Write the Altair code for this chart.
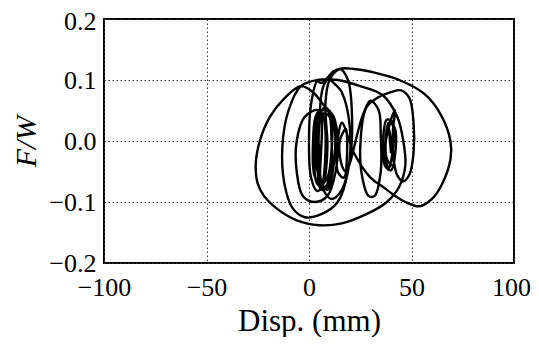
import altair as alt
import pandas as pd

x_ticks = [-100, -50, 0, 50, 100]
y_ticks = [-0.2, -0.1, 0.0, 0.1, 0.2]

# Traced path of the force-displacement response (mm, F/W), in drawing order
disp = [
    # dense block near 2-12 mm
    6, 3, 5, 7, 8, 6, 3, 2, 4, 9, 11, 10, 6, 4, 5, 8, 12, 12, 9, 5, 3, 6, 10, 11, 8, 4, 3, 7, 10, 9, 6, 5,
    # small loop
    -2, -6, -6, -3, 3, 9, 13, 14, 12, 8,
    # large left loop
    2, -4, -12, -19, -24, -26, -25, -22, -16, -6, 5, 16, 28, 38, 44, 47, 46, 43, 36, 25, 14, 4,
    # second outer left loop
    -4, -10, -13, -12, -8, -2, 6, 14, 19, 20, 16, 10,
    # tall loop reaching the top
    15, 19, 21, 20, 16, 11, 7, 5, 5, 7, 12,
    # narrow tall loop
    6, 4, 1, 0, 1, 4, 7, 9, 8, 10, 15,
    # large right loop
    22, 32, 44, 56, 64, 69, 69, 65, 60, 54, 47, 42, 36, 30, 22,
    # small block 14-18 mm
    16, 14, 17, 18, 15, 16, 18,
    # loop 25-35 mm
    26, 30, 34, 35, 35, 32, 29, 26, 25, 28,
    # loop 41-51 mm
    34, 40, 45, 49, 51, 51, 49, 46, 43, 41, 41, 42,
    # dense block near 36-43 mm
    40, 37, 39, 41, 38, 37, 40, 42, 39, 38, 41, 40, 39, 40,
]
fw = [
    -0.02, 0.03, 0.05, 0.04, -0.02, -0.07, -0.06, 0.0, 0.045, 0.05, 0.0, -0.07, -0.08, -0.03, 0.04, 0.055,
    0.03, -0.04, -0.08, -0.06, 0.0, 0.05, 0.05, -0.02, -0.075, -0.07, -0.02, 0.045, 0.04, -0.06, -0.07, 0.05,
    0.04, 0.0, -0.05, -0.09, -0.1, -0.09, -0.05, 0.0, 0.04, 0.055,
    0.08, 0.09, 0.07, 0.04, 0.0, -0.04, -0.07, -0.09, -0.11, -0.13, -0.138, -0.135, -0.12, -0.1, -0.075,
    -0.04, 0.0, 0.04, 0.075, 0.09, 0.1, 0.1,
    0.09, 0.05, -0.01, -0.07, -0.11, -0.125, -0.12, -0.1, -0.05, 0.02, 0.08, 0.105,
    0.118, 0.1, 0.04, -0.03, -0.08, -0.095, -0.08, -0.04, 0.03, 0.09, 0.115,
    0.095, 0.098, 0.06, 0.0, -0.06, -0.082, -0.07, -0.01, 0.06, 0.1, 0.118,
    0.118, 0.112, 0.1, 0.078, 0.045, 0.0, -0.03, -0.07, -0.095, -0.107, -0.1, -0.09, -0.075, -0.06, -0.02,
    0.03, -0.05, -0.06, 0.02, 0.0, -0.04, -0.05,
    0.04, 0.066, 0.05, 0.01, -0.05, -0.09, -0.09, -0.06, -0.01, 0.055,
    0.072, 0.08, 0.083, 0.07, 0.03, -0.02, -0.055, -0.066, -0.056, -0.02, 0.02, 0.05,
    0.035, -0.02, -0.045, 0.03, 0.035, -0.04, -0.048, 0.02, 0.03, -0.03, -0.04, 0.0, 0.02, -0.02,
]

df = pd.DataFrame({"i": list(range(len(disp))), "disp": disp, "fw": fw})

FONT = "Liberation Serif"

chart = (
    alt.Chart(df)
    .mark_line(color="black", strokeWidth=2.4, interpolate="catmull-rom")
    .encode(
        x=alt.X(
            "disp:Q",
            scale=alt.Scale(domain=[-100, 100], nice=False),
            axis=alt.Axis(
                values=x_ticks, format="d", title="Disp. (mm)",
                labelFont=FONT, titleFont=FONT, labelFontSize=26,
                labelPadding=11, titleY=67, titleBaseline="alphabetic",
                titleFontSize=31, labelFlush=False,
                labelOffset=alt.ExprRef("datum.value == 100 ? -3 : 0"),
            ),
        ),
        y=alt.Y(
            "fw:Q",
            scale=alt.Scale(domain=[-0.2, 0.2], nice=False),
            axis=alt.Axis(
                values=y_ticks, format=".1f", title="F/W",
                labelFont=FONT, titleFont=FONT, labelFontSize=26,
                labelPadding=8, titleX=-69, titleY=122, titleAngle=270,
                titleBaseline="alphabetic", titleAlign="center",
                titleFontStyle="italic", titleFontSize=30, labelFlush=False,
                labelOffset=alt.ExprRef("datum.value > 0.15 ? 2 : 0"),
            ),
        ),
        order=alt.Order("i:Q"),
    )
    .properties(
        width=410,
        height=244,
        autosize=alt.AutoSizeParams(type="none"),
        padding={"left": 96, "top": 11, "right": 17, "bottom": 74},
    )
    .configure_view(stroke="black", strokeWidth=2)
    .configure_axis(
        domain=False,
        ticks=False,
        grid=True,
        gridColor="#333333",
        gridDash=[1.5, 2.5],
        gridWidth=1,
        labelFont=FONT,
        titleFont=FONT,
        labelColor="black",
        titleColor="black",
        titleFontWeight="normal",
    )
)

chart.save("out.html", embed_options={"renderer": "svg", "actions": False})
